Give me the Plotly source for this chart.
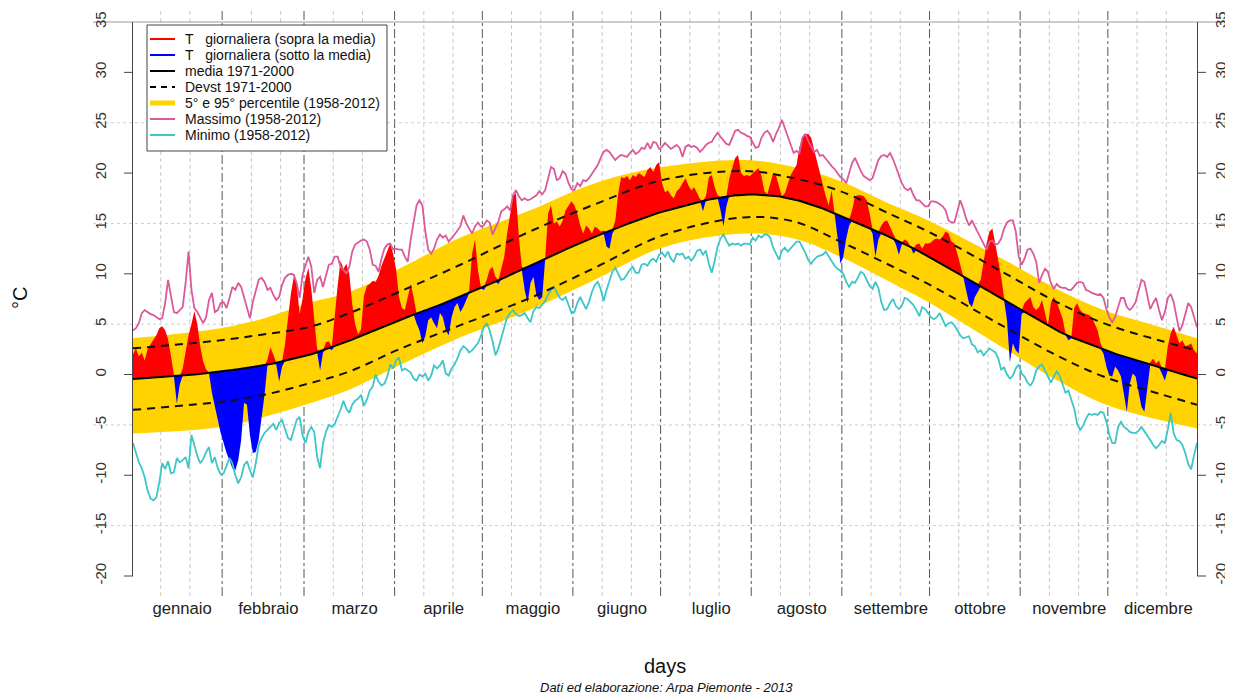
import plotly.graph_objects as go

# ---------------- data ----------------
days = list(range(1, 366))
month_names = ["gennaio", "febbraio", "marzo", "aprile", "maggio", "giugno",
               "luglio", "agosto", "settembre", "ottobre", "novembre", "dicembre"]
month_len = [31, 28, 31, 30, 31, 30, 31, 31, 30, 31, 30, 31]
y_tick_vals = [-20, -15, -10, -5, 0, 5, 10, 15, 20, 25, 30, 35]

# daily temperature 2013
t_2013 = [
    2.0, 2.6, 1.8, 2.2, 1.4, 2.5, 3.0, 3.4, 3.9, 4.6,
    4.8, 4.4, 3.5, 1.8, 0.0, -2.9, -1.0, 0.6, 2.4, 3.9,
    5.0, 6.3, 5.0, 2.8, 1.3, 0.5, 0.2, -1.8, -3.3, -4.5,
    -5.8, -6.8, -7.8, -8.5, -9.3, -9.5, -8.5, -6.5, -2.8, -3.0,
    -6.0, -7.8, -7.7, -6.5, -4.5, -2.0, 1.5, 2.7, 2.0, 1.0,
    -0.7, 0.8, 3.0, 5.5, 8.0, 9.7, 9.0, 6.0, 7.5, 9.5,
    10.6, 8.5, 5.5, 2.5, 0.4, 2.2, 3.2, 3.3, 2.4, 6.0,
    8.8, 11.3, 10.5, 11.0, 10.0, 7.0, 5.0, 4.0, 4.5, 7.8,
    8.8, 9.0, 9.3, 9.2, 9.8, 10.8, 11.6, 12.3, 13.0, 12.0,
    10.4, 7.7, 6.6, 6.4, 7.7, 9.0, 7.7, 5.1, 4.4, 3.1,
    3.8, 5.4, 5.7, 5.1, 4.6, 6.1, 5.7, 4.4, 3.9, 5.7,
    6.7, 7.1, 6.2, 6.7, 7.4, 8.3, 12.0, 13.4, 10.4, 8.7,
    8.4, 9.4, 10.4, 10.7, 9.7, 9.0, 10.4, 11.7, 14.0, 16.0,
    17.7, 18.0, 13.7, 10.7, 8.4, 7.1, 9.1, 9.7, 7.9, 7.4,
    7.7, 11.4, 16.0, 16.8, 15.0, 15.2, 14.7, 15.3, 16.3, 16.7,
    17.2, 16.8, 16.0, 14.8, 14.0, 14.8, 14.5, 14.0, 14.7, 14.5,
    14.2, 14.3, 12.7, 12.5, 14.0, 15.3, 18.0, 19.6, 19.5, 19.7,
    19.3, 19.8, 19.6, 20.0, 19.8, 19.6, 20.3, 20.6, 20.1, 20.8,
    21.1, 19.0, 18.1, 18.3, 17.8, 17.5, 18.2, 18.5, 19.0, 19.5,
    18.8, 18.3, 18.6, 18.0, 17.4, 16.2, 17.7, 19.6, 19.8, 18.6,
    17.8, 16.3, 14.7, 16.7, 19.5, 20.5, 21.5, 21.8, 20.0, 19.7,
    19.8, 19.7, 20.0, 20.3, 20.5, 19.7, 18.2, 17.9, 19.1, 20.0,
    19.7, 18.7, 17.7, 18.0, 18.8, 19.8, 20.3, 20.8, 22.6, 23.5,
    23.8, 23.9, 23.5, 22.3, 21.1, 20.0, 18.8, 17.7, 16.8, 18.3,
    16.0, 13.7, 11.0, 11.7, 13.5, 14.8, 16.3, 17.7, 17.8, 17.8,
    17.7, 17.3, 16.0, 14.0, 11.7, 13.4, 14.8, 15.2, 15.3, 14.7,
    14.0, 12.9, 11.9, 12.9, 13.4, 13.2, 12.7, 12.0, 12.9, 13.0,
    12.5, 13.0, 13.0, 13.1, 13.4, 13.5, 13.4, 13.7, 14.2, 14.0,
    13.2, 13.0, 12.0, 10.9, 9.8, 8.4, 7.1, 6.7, 7.7, 8.2,
    9.4, 11.4, 13.0, 14.2, 14.5, 13.0, 11.4, 9.7, 7.6, 5.4,
    1.2, 3.1, 2.4, 2.1, 6.0, 7.1, 7.4, 7.7, 6.7, 6.4,
    6.7, 7.4, 6.1, 4.9, 7.1, 7.7, 7.2, 6.4, 5.6, 4.1,
    3.4, 3.6, 6.6, 7.1, 6.4, 6.1, 6.0, 5.9, 5.7, 5.1,
    4.4, 3.1, 2.1, 0.8, -0.1, -0.2, 0.8, 0.4, -0.2, -2.2,
    -3.7, -0.9, 0.1, -0.2, -1.9, -3.2, -3.7, -1.2, 1.2, 1.6,
    1.1, 1.4, 0.1, -0.6, 2.8, 4.1, 4.75, 3.8, 3.1, 3.4,
    2.8, 2.9, 3.1, 2.4, 2.1,
]

# daily mean 1971-2000
media_7100 = [
    -0.45, -0.43, -0.41, -0.40, -0.38, -0.36, -0.34, -0.32, -0.31, -0.29, -0.27, -0.25, -0.23, -0.22, -0.20,
    -0.17, -0.14, -0.11, -0.08, -0.05, -0.02, 0.01, 0.04, 0.07, 0.10, 0.13, 0.16, 0.19, 0.22, 0.25,
    0.29, 0.33, 0.37, 0.41, 0.45, 0.49, 0.53, 0.57, 0.61, 0.65, 0.69, 0.73, 0.77, 0.81, 0.85,
    0.91, 0.98, 1.04, 1.10, 1.17, 1.23, 1.29, 1.36, 1.42, 1.48, 1.55, 1.61, 1.67, 1.74, 1.80,
    1.90, 2.01, 2.11, 2.21, 2.32, 2.42, 2.52, 2.63, 2.73, 2.83, 2.94, 3.04, 3.14, 3.25, 3.35,
    3.47, 3.60, 3.72, 3.84, 3.97, 4.09, 4.21, 4.34, 4.46, 4.58, 4.71, 4.83, 4.95, 5.08, 5.20,
    5.31, 5.41, 5.52, 5.63, 5.73, 5.84, 5.95, 6.05, 6.16, 6.27, 6.37, 6.48, 6.59, 6.69, 6.80,
    6.92, 7.03, 7.15, 7.27, 7.38, 7.50, 7.62, 7.73, 7.85, 7.97, 8.08, 8.20, 8.32, 8.43, 8.55,
    8.68, 8.82, 8.95, 9.08, 9.22, 9.35, 9.48, 9.62, 9.75, 9.88, 10.02, 10.15, 10.28, 10.42, 10.55,
    10.68, 10.82, 10.95, 11.08, 11.22, 11.35, 11.48, 11.62, 11.75, 11.88, 12.02, 12.15, 12.28, 12.42, 12.55,
    12.67, 12.80, 12.92, 13.04, 13.17, 13.29, 13.41, 13.54, 13.66, 13.78, 13.91, 14.03, 14.15, 14.28, 14.40,
    14.51, 14.61, 14.72, 14.83, 14.93, 15.04, 15.15, 15.25, 15.36, 15.47, 15.57, 15.68, 15.79, 15.89, 16.00,
    16.08, 16.16, 16.24, 16.32, 16.40, 16.48, 16.56, 16.64, 16.72, 16.80, 16.88, 16.96, 17.04, 17.12, 17.20,
    17.26, 17.31, 17.37, 17.42, 17.48, 17.53, 17.59, 17.64, 17.70, 17.75,
    17.77, 17.79, 17.81, 17.84, 17.86, 17.88, 17.90,
    17.89, 17.88, 17.86, 17.85, 17.84, 17.83, 17.81, 17.80,
    17.74, 17.69, 17.63, 17.58, 17.52, 17.46, 17.41, 17.35,
    17.26, 17.16, 17.07, 16.98, 16.88, 16.79, 16.69, 16.60,
    16.48, 16.36, 16.24, 16.11, 15.99, 15.87, 15.75,
    15.63, 15.51, 15.39, 15.26, 15.14, 15.02, 14.90,
    14.78, 14.65, 14.53, 14.40, 14.28, 14.15, 14.03, 13.90,
    13.77, 13.64, 13.51, 13.39, 13.26, 13.13, 13.00,
    12.84, 12.69, 12.53, 12.38, 12.22, 12.06, 11.91, 11.75,
    11.58, 11.42, 11.25, 11.08, 10.92, 10.75, 10.58, 10.42, 10.25, 10.08, 9.92, 9.75,
    9.59, 9.42, 9.26, 9.09, 8.93, 8.76, 8.60,
    8.43, 8.26, 8.09, 7.91, 7.74, 7.57, 7.40,
    7.23, 7.06, 6.89, 6.71, 6.54, 6.37, 6.20,
    6.03, 5.86, 5.69, 5.53, 5.36, 5.19, 5.02, 4.85,
    4.70, 4.55, 4.40, 4.25, 4.10, 3.95,
    3.83, 3.72, 3.60, 3.49, 3.37, 3.26, 3.14, 3.03, 2.91, 2.80, 2.68, 2.57, 2.45,
    2.36, 2.26, 2.17, 2.08, 1.98, 1.89, 1.79, 1.70, 1.61, 1.51, 1.42, 1.33, 1.23, 1.14, 1.05, 0.95,
    0.87, 0.78, 0.70, 0.61, 0.53, 0.44, 0.36, 0.28, 0.19, 0.11, 0.02, -0.06, -0.15, -0.23, -0.32, -0.40,
]

# daily maximum 1958-2012
massimo = [
    4.4, 4.6, 5.1, 6.1, 6.4, 6.2, 6.0, 5.9, 5.7, 5.5,
    5.6, 7.1, 9.4, 7.9, 6.2, 6.1, 6.4, 6.7, 9.1, 12.2,
    8.4, 6.6, 6.2, 5.6, 5.1, 5.7, 7.4, 8.1, 6.2, 6.4,
    7.1, 7.2, 6.6, 7.6, 8.7, 8.4, 9.1, 8.7, 7.6, 6.7,
    5.6, 7.2, 8.4, 9.4, 9.6, 9.2, 8.4, 8.6, 7.9, 7.4,
    7.7, 8.9, 9.6, 9.9, 10.0, 9.9, 9.1, 7.6, 9.9, 10.7,
    11.7, 10.7, 8.1, 9.4, 9.7, 8.7, 9.9, 10.9, 11.0, 11.7,
    11.7, 10.7, 10.4, 10.0, 10.7, 12.2, 12.9, 13.1, 13.3, 13.4,
    13.2, 12.4, 10.9, 10.8, 10.2, 11.5, 12.5, 12.9, 13.0, 12.4,
    12.5, 12.4, 12.4, 11.7, 11.2, 13.4, 15.2, 16.8, 17.3, 16.8,
    14.2, 12.4, 12.0, 12.5, 13.4, 13.9, 13.6, 13.8, 13.2, 13.5,
    13.9, 14.3, 14.7, 15.8, 15.0, 14.5, 14.0, 14.7, 15.1, 14.7,
    14.8, 15.3, 15.1, 13.9, 14.5, 15.2, 16.2, 16.4, 16.7, 16.3,
    17.8, 18.3, 17.7, 17.3, 17.5, 17.3, 17.4, 17.6, 17.8, 18.2,
    17.9, 18.3, 19.5, 20.6, 20.4, 19.3, 19.5, 20.2, 19.9, 19.0,
    18.4, 18.3, 19.0, 18.7, 19.3, 19.2, 19.5, 19.9, 20.3, 20.8,
    21.5, 22.1, 22.3, 22.1, 21.7, 21.3, 21.6, 21.8, 21.7, 21.6,
    22.0, 22.3, 21.9, 22.1, 22.5, 22.4, 23.0, 22.4, 23.1, 23.0,
    22.4, 22.6, 23.0, 22.7, 22.4, 22.6, 22.8, 22.5, 21.6, 22.6,
    22.8, 22.6, 22.7, 22.5, 22.1, 22.4, 22.8, 23.0, 23.1, 23.6,
    24.0, 23.6, 23.2, 22.9, 22.8, 23.5, 24.2, 24.3, 24.0, 23.9,
    23.7, 23.6, 23.1, 22.5, 22.6, 23.5, 24.0, 24.2, 23.8, 23.1,
    23.9, 24.5, 25.3, 24.5, 23.8, 23.0, 22.0, 22.2, 22.0, 23.5,
    23.9, 23.2, 22.6, 22.1, 22.3, 21.7, 21.8, 21.4, 21.0, 20.7,
    20.4, 20.0, 19.6, 19.4, 19.0, 20.0, 21.0, 21.5, 20.8, 20.2,
    19.7, 19.5, 19.3, 19.5, 20.3, 21.3, 21.7, 21.8, 21.6, 22.0,
    21.4, 20.6, 19.8, 19.0, 18.5, 18.3, 18.5, 17.8, 17.3, 17.3,
    17.0, 16.7, 16.7, 17.2, 17.2, 17.1, 16.9, 16.7, 16.3, 15.3,
    15.1, 15.1, 16.2, 17.3, 16.5, 15.5, 14.8, 15.3, 14.7, 14.1,
    13.5, 13.0, 12.4, 13.2, 13.3, 12.9, 13.0, 13.5, 14.5, 15.1,
    15.3, 15.3, 14.2, 11.7, 10.9, 11.5, 12.4, 12.5, 12.0, 11.2,
    9.1, 9.9, 10.5, 10.2, 9.1, 8.5, 9.0, 8.7, 8.6, 8.6,
    8.4, 8.4, 8.7, 9.1, 9.2, 9.1, 8.4, 8.3, 8.1, 8.0,
    7.9, 8.0, 7.6, 6.5, 5.7, 5.2, 5.7, 6.7, 7.6, 7.6,
    6.7, 6.4, 6.7, 7.2, 8.4, 9.4, 9.2, 7.7, 6.5, 7.1,
    7.6, 6.4, 5.4, 6.2, 7.6, 8.0, 7.2, 5.7, 4.3, 4.9,
    5.9, 7.1, 6.7, 5.7, 4.7,
]

# daily minimum 1958-2012
minimo = [
    -6.8, -7.8, -8.7, -9.3, -10.2, -11.5, -12.3, -12.5, -12.2, -10.7,
    -8.8, -9.4, -8.6, -9.8, -9.7, -8.3, -8.7, -8.5, -8.2, -9.3,
    -6.0, -7.0, -8.1, -8.8, -8.4, -7.7, -7.2, -8.8, -8.2, -9.3,
    -9.9, -9.8, -9.0, -8.3, -8.8, -10.0, -10.8, -10.2, -9.0, -8.6,
    -9.5, -10.2, -8.8, -7.0, -6.3, -5.8, -5.5, -5.2, -4.9, -5.5,
    -4.8, -4.5, -5.3, -6.3, -6.5, -5.6, -4.5, -4.2, -6.0, -6.8,
    -5.7, -5.2, -5.7, -8.2, -9.3, -6.8, -5.7, -5.0, -5.2, -4.9,
    -4.2, -3.5, -2.6, -3.4, -3.8, -3.0, -2.6, -2.4, -2.0, -3.1,
    -2.5, -1.6, -1.2, 0.0, -0.7, -1.1, -0.9, -0.2, 1.0, 0.6,
    1.4, 1.7, 0.4, 0.6, 0.4, 0.2, -0.4, -0.6, 0.0, -0.2,
    0.1, -0.6, -0.1, 0.9, 0.6, 0.9, 1.4, 0.1, -0.1, 0.6,
    1.0, 1.6, 2.4, 2.8, 2.6, 2.2, 2.4, 2.7, 3.1, 3.8,
    4.7, 5.1, 4.4, 3.3, 1.9, 2.6, 3.6, 4.8, 5.7, 6.1,
    6.4, 6.0, 5.8, 5.9, 6.1, 5.6, 5.2, 6.3, 6.7, 6.6,
    7.0, 7.3, 7.9, 8.4, 8.7, 8.2, 7.6, 7.4, 7.7, 6.9,
    6.1, 6.2, 7.1, 7.7, 7.1, 6.5, 7.2, 8.2, 8.9, 9.2,
    8.5, 7.3, 8.4, 9.3, 10.2, 10.6, 10.0, 9.4, 9.5, 10.0,
    10.4, 10.7, 10.1, 10.1, 10.9, 11.0, 10.8, 11.3, 11.5, 11.2,
    11.9, 12.1, 11.7, 12.2, 11.5, 11.2, 12.0, 11.9, 12.0, 11.5,
    11.7, 11.3, 11.7, 12.3, 12.4, 11.9, 12.3, 11.0, 10.1, 11.3,
    12.7, 13.5, 13.9, 13.3, 12.8, 13.0, 12.9, 13.0, 12.8, 13.0,
    13.0, 12.9, 13.6, 13.3, 13.8, 13.6, 13.9, 13.9, 13.6, 12.6,
    12.0, 11.4, 12.3, 12.6, 12.2, 12.5, 12.9, 13.2, 13.2, 12.7,
    12.1, 11.4, 11.0, 11.4, 11.7, 11.8, 11.9, 12.2, 11.7, 11.3,
    10.8, 10.5, 10.3, 10.0, 9.2, 8.7, 9.2, 9.1, 9.6, 10.2,
    10.0, 9.4, 8.8, 8.5, 9.2, 8.6, 7.2, 6.4, 6.5, 7.1,
    7.5, 6.8, 6.5, 6.8, 7.6, 7.5, 7.2, 6.9, 6.4, 5.8,
    6.7, 6.5, 6.1, 5.7, 5.5, 5.7, 6.1, 5.4, 4.8, 5.1,
    5.2, 4.9, 4.4, 3.9, 3.6, 3.7, 3.8, 3.0, 2.8, 2.2,
    2.4, 1.9, 2.3, 2.6, 2.4, 2.2, 1.6, 0.5, 0.7, 0.0,
    -0.4, -0.1, 0.6, 1.0, 0.1, -0.2, -0.8, -1.1, -0.6, 0.4,
    0.8, 1.0, 0.4, -0.2, -0.8, -0.2, 0.3, -0.1, -1.0, -1.8,
    -1.6, -2.5, -3.4, -4.9, -5.5, -5.1, -4.4, -3.9, -4.0, -3.9,
    -4.0, -3.7, -3.8, -4.7, -6.0, -6.8, -6.8, -5.2, -4.7, -5.2,
    -5.4, -5.7, -5.8, -5.8, -5.6, -5.2, -5.6, -6.0, -6.5, -7.0,
    -7.3, -7.0, -6.6, -6.8, -5.5, -3.8, -5.8, -6.5, -6.6, -7.0,
    -7.8, -8.9, -9.4, -8.0, -6.8,
]

# smooth climatological curves, read at node days
node_days = [1, 31, 46, 61, 75, 92, 113, 136, 159, 182, 210, 227, 243, 261, 273, 299, 317, 333, 352, 365]
perc95 = [3.6, 4.6, 5.6, 7.1, 8.2, 10.5, 13.6, 16.2, 19.0, 20.6, 21.3, 20.6, 19.2, 16.8, 15.3, 11.4, 8.5, 6.4, 4.75, 3.6]
perc5 = [-5.85, -5.2, -4.2, -2.9, -1.5, 0.9, 3.7, 6.3, 9.4, 12.6, 14.0, 13.5, 11.7, 9.05, 7.2, 2.6, -0.55, -2.9, -4.5, -5.35]
devst_sup = [2.6, 3.4, 4.0, 4.7, 6.1, 8.2, 10.9, 14.1, 16.9, 19.3, 20.2, 19.5, 18.2, 15.8, 14.2, 10.1, 7.2, 5.1, 3.4, 2.4]
devst_inf = [-3.5, -2.7, -2.0, -0.9, 0.3, 2.5, 4.9, 7.5, 10.6, 13.8, 15.6, 15.2, 13.2, 10.7, 9.0, 4.75, 1.9, -0.2, -1.9, -3.0]

NB = "\u00a0"
legend_labels = [
    "T" + NB * 3 + "giornaliera (sopra la media)",
    "T" + NB * 3 + "giornaliera (sotto la media)",
    "media 1971-2000",
    "Devst 1971-2000",
    "5°" + NB + "e 95°" + NB + "percentile (1958-2012)",
    "Massimo (1958-2012)",
    "Minimo (1958-2012)",
]

for arr in (t_2013, media_7100, massimo, minimo):
    assert len(arr) == 365, len(arr)

# ---------------- geometry / style ----------------
# page coordinates measured on the reference (window 1233x694);
# the browser adds an 8px body margin around the figure div
PAGE_W, PAGE_H, OFF = 1233, 694, 8
FIG_W, FIG_H = PAGE_W - OFF, PAGE_H - OFF
PL, PR, PT, PB = 133, 1197, 22, 576       # plot area in page pixels
X_RANGE = [1, 365]
Y_RANGE = [-20, 35]
FONT = "Liberation Sans, Arial, Helvetica, sans-serif"

C_RED, C_BLUE, C_GOLD = "#FF0000", "#0000FF", "#FFD200"
C_MAX, C_MIN = "#DA5A9C", "#3CC6C8"


def px_x(px):
    return (px - PL) / (PR - PL)


def px_y(py):
    return (PB - py) / (PB - PT)


def v_y(v):
    return (v - Y_RANGE[0]) / (Y_RANGE[1] - Y_RANGE[0])


above = [max(t, m) for t, m in zip(t_2013, media_7100)]
below = [min(t, m) for t, m in zip(t_2013, media_7100)]

fig = go.Figure()
base = dict(hoverinfo="skip", showlegend=False)

# percentile band
fig.add_trace(go.Scatter(x=node_days, y=perc5, mode="lines", line=dict(width=0, shape="spline"), **base))
fig.add_trace(go.Scatter(x=node_days, y=perc95, mode="lines", line=dict(width=0, shape="spline"),
                         fill="tonexty", fillcolor=C_GOLD, **base))
# anomalies above / below the mean
fig.add_trace(go.Scatter(x=days, y=media_7100, mode="lines", line=dict(width=0), **base))
fig.add_trace(go.Scatter(x=days, y=above, mode="lines", line=dict(width=0),
                         fill="tonexty", fillcolor=C_RED, **base))
fig.add_trace(go.Scatter(x=days, y=media_7100, mode="lines", line=dict(width=0), **base))
fig.add_trace(go.Scatter(x=days, y=below, mode="lines", line=dict(width=0),
                         fill="tonexty", fillcolor=C_BLUE, **base))
# extremes
fig.add_trace(go.Scatter(x=days, y=massimo, mode="lines", line=dict(color=C_MAX, width=1.8), **base))
fig.add_trace(go.Scatter(x=days, y=minimo, mode="lines", line=dict(color=C_MIN, width=1.8), **base))
# mean and std dev
fig.add_trace(go.Scatter(x=days, y=media_7100, mode="lines", line=dict(color="black", width=2), **base))
fig.add_trace(go.Scatter(x=node_days, y=devst_sup, mode="lines",
                         line=dict(color="#111111", width=2, dash="8px,6px", shape="spline"), **base))
fig.add_trace(go.Scatter(x=node_days, y=devst_inf, mode="lines",
                         line=dict(color="#111111", width=2, dash="8px,6px", shape="spline"), **base))
# carrier for the right-hand axis
fig.add_trace(go.Scatter(x=[X_RANGE[0]], y=[None], yaxis="y2", mode="lines", **base))

shapes = []
cum = [0]
for n in month_len:
    cum.append(cum[-1] + n)
for i in range(12):
    for k in (10.5, 20.5):
        shapes.append(dict(type="line", xref="x", yref="paper", x0=cum[i] + k, x1=cum[i] + k,
                           y0=px_y(596), y1=px_y(OFF), layer="below",
                           line=dict(color="#C8C8C8", width=1, dash="4px,3px")))
    if i > 0:
        shapes.append(dict(type="line", xref="x", yref="paper", x0=cum[i] + 0.5, x1=cum[i] + 0.5,
                           y0=px_y(596), y1=px_y(OFF), layer="below",
                           line=dict(color="#555555", width=1, dash="dashdot")))
for v in y_tick_vals:
    if v % 10 != 0:
        dash, col = ("dot", "#CFCFCF") if v != 35 else ("solid", "#9A9A9A")
        shapes.append(dict(type="line", xref="paper", yref="paper", x0=px_x(93), x1=px_x(PAGE_W),
                           y0=v_y(v), y1=v_y(v), layer="below", line=dict(color=col, width=1, dash=dash)))
    else:
        for a, b in ((124, PL), (PR, PR + 9)):
            shapes.append(dict(type="line", xref="paper", yref="paper", x0=px_x(a), x1=px_x(b),
                               y0=v_y(v), y1=v_y(v), line=dict(color="#444444", width=1)))

# legend box
LB = dict(x0=147, x1=387, y0=25, y1=151)
shapes.append(dict(type="rect", xref="paper", yref="paper", x0=px_x(LB["x0"]), x1=px_x(LB["x1"]),
                   y0=px_y(LB["y1"]), y1=px_y(LB["y0"]), fillcolor="white",
                   line=dict(color="#444444", width=1), layer="above"))
leg_styles = [
    dict(color=C_RED, width=2), dict(color=C_BLUE, width=2), dict(color="black", width=2),
    dict(color="black", width=2, dash="6px,5px"), dict(color=C_GOLD, width=5),
    dict(color=C_MAX, width=2), dict(color=C_MIN, width=2),
]
annotations = []
for i, (lab, st) in enumerate(zip(legend_labels, leg_styles)):
    yy = 39 + i * 16
    shapes.append(dict(type="line", xref="paper", yref="paper", x0=px_x(150), x1=px_x(175),
                       y0=px_y(yy), y1=px_y(yy), line=st, layer="above"))
    annotations.append(dict(xref="paper", yref="paper", x=px_x(183), y=px_y(yy), text=lab,
                            showarrow=False, xanchor="left", yanchor="middle",
                            font=dict(family=FONT, size=14, color="#111111")))

annotations += [
    dict(xref="paper", yref="paper", x=px_x(665), y=px_y(666), text="days", showarrow=False,
         xanchor="center", yanchor="middle", font=dict(family=FONT, size=20, color="#111111")),
    dict(xref="paper", yref="paper", x=px_x(20), y=px_y(298), text="°C", showarrow=False, textangle=-90,
         xanchor="center", yanchor="middle", font=dict(family=FONT, size=20, color="#111111")),
    dict(xref="paper", yref="paper", x=px_x(666), y=px_y(687), text="<i>Dati ed elaborazione: Arpa Piemonte - 2013</i>",
         showarrow=False, xanchor="center", yanchor="middle", font=dict(family=FONT, size=13, color="#111111")),
]

month_pos = [cum[i] + month_len[i] / 2 + 0.5 + 1.8 for i in range(12)]
yt = dict(range=Y_RANGE, tickmode="array", tickvals=y_tick_vals, ticktext=[str(v) for v in y_tick_vals],
          tickangle=-90, tickfont=dict(family=FONT, size=15, color="#333333"), ticks="",
          showgrid=False, zeroline=False, showline=True, linecolor="#444444", linewidth=1)

fig.update_layout(
    width=FIG_W, height=FIG_H,
    margin=dict(l=PL - OFF, r=PAGE_W - PR, t=PT - OFF, b=PAGE_H - PB, autoexpand=False),
    paper_bgcolor="white", plot_bgcolor="white",
    showlegend=False,
    xaxis=dict(range=X_RANGE, tickmode="array", tickvals=month_pos, ticktext=month_names,
               tickfont=dict(family=FONT, size=16.7, color="#222222"), ticks="", ticklabelstandoff=20,
               showgrid=False, zeroline=False, showline=False),
    yaxis=dict(**yt, side="left", ticklabelstandoff=20),
    yaxis2=dict(**yt, side="right", overlaying="y", ticklabelstandoff=10),
    shapes=shapes, annotations=annotations,
)

fig.write_html("out.html")
